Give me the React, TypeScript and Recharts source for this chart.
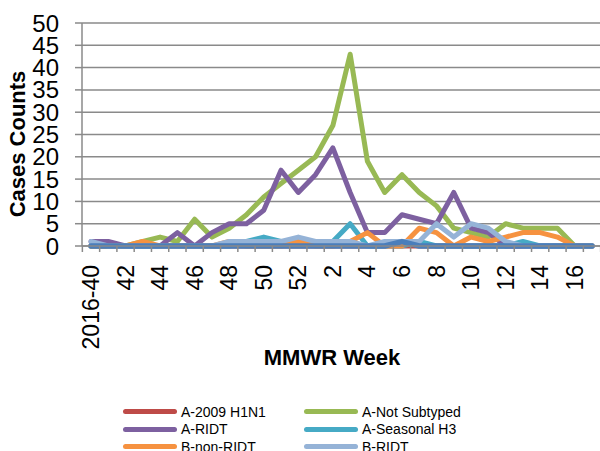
import { LineChart, Line, XAxis, YAxis, CartesianGrid } from 'recharts';

const WEEKS = [
  '2016-40', '41', '42', '43', '44', '45', '46', '47', '48', '49', '50', '51', '52',
  '1', '2', '3', '4', '5', '6', '7', '8', '9', '10', '11', '12', '13', '14', '15', '16', '17',
];

const A_H1N1 = [0, 0, 0, 0, 0, 0, 0, 0, 0, 0, 0, 0, 0, 0, 0, 0, 0, 0, 0, 0, 0, 0, 0, 0, 0, 0, 0, 0, 0, 0];
const A_NOT_SUBTYPED = [0, 0, 0, 1, 2, 1, 6, 2, 4, 7, 11, 14, 17, 20, 27, 43, 19, 12, 16, 12, 9, 4, 3, 2, 5, 4, 4, 4, 0, 0];
const A_RIDT = [1, 1, 0, 0, 0, 3, 0, 3, 5, 5, 8, 17, 12, 16, 22, 12, 3, 3, 7, 6, 5, 12, 4, 3, 0, 0, 0, 0, 0, 0];
const A_H3 = [0, 0, 0, 0, 0, 0, 0, 0, 0, 1, 2, 1, 1, 1, 1, 5, 0, 0, 0, 1, 0, 0, 0, 0, 0, 1, 0, 0, 0, 0];
const B_NON_RIDT = [0, 0, 0, 1, 0, 0, 0, 0, 1, 0, 0, 0, 1, 0, 0, 1, 3, 0, 0, 4, 3, 0, 2, 1, 2, 3, 3, 2, 0, 0];
const B_RIDT = [1, 0, 0, 0, 0, 0, 0, 0, 1, 1, 1, 1, 2, 1, 1, 1, 0, 1, 1, 1, 5, 2, 5, 4, 1, 0, 0, 0, 0, 0];
const UNKNOWN = [0, 0, 0, 0, 0, 0, 0, 0, 0, 0, 0, 0, 0, 0, 0, 0, 0, 0, 1, 0, 0, 0, 0, 0, 0, 0, 0, 0, 0, 0];

const Y_TICKS = [0, 5, 10, 15, 20, 25, 30, 35, 40, 45, 50];

const SERIES = [
  { key: 'h1n1', name: 'A-2009 H1N1', color: '#BE4B48', values: A_H1N1 },
  { key: 'notSub', name: 'A-Not Subtyped', color: '#98B954', values: A_NOT_SUBTYPED },
  { key: 'aRidt', name: 'A-RIDT', color: '#7D60A0', values: A_RIDT },
  { key: 'h3', name: 'A-Seasonal H3', color: '#46AAC5', values: A_H3 },
  { key: 'bNon', name: 'B-non-RIDT', color: '#F69240', values: B_NON_RIDT },
  { key: 'bRidt', name: 'B-RIDT', color: '#95B3D7', values: B_RIDT },
  { key: 'unk', name: 'Unknown', color: '#4A7EBB', values: UNKNOWN },
];

const data = WEEKS.map((week, i) => {
  const row: Record<string, string | number> = { week };
  SERIES.forEach(s => { row[s.key] = s.values[i]; });
  return row;
});

const FONT = '"Liberation Sans", Arial, sans-serif';
const GRID = '#8A8A8A';
const PAD_L = 9;
const PAD_R = 8;

// tick marks sit between weeks, labels on every other week
function WeekTick(props: any) {
  const { x, y, payload, index, width, visibleTicksCount } = props;
  const count = visibleTicksCount || WEEKS.length;
  const half = width ? (width - PAD_L - PAD_R) / (count - 1) / 2 : 8.6;
  return (
    <g>
      <line x1={x + half} y1={y} x2={x + half} y2={y + 6} stroke={GRID} strokeWidth={1.5} />
      {index === 0 && <line x1={x - half} y1={y} x2={x - half} y2={y + 6} stroke={GRID} strokeWidth={1.5} />}
      {index % 2 === 0 && (
        <text
          x={x}
          y={y + 19}
          transform={`rotate(-90, ${x}, ${y + 19})`}
          textAnchor="end"
          dominantBaseline="central"
          fontSize={23}
          fontFamily={FONT}
          fill="#000"
        >
          {payload.value}
        </text>
      )}
    </g>
  );
}

export default function App() {
  return (
    <div style={{ position: 'absolute', left: 0, top: 0, width: 600, height: 451, overflow: 'hidden', fontFamily: FONT, background: '#fff' }}>
      <LineChart width={600} height={480} data={data} margin={{ top: 23, right: 0, bottom: 124, left: 0 }}>
        <CartesianGrid vertical={false} stroke={GRID} strokeWidth={1.5} />
        <XAxis
          dataKey="week"
          interval={0}
          height={110}
          padding={{ left: PAD_L, right: PAD_R }}
          tickLine={false}
          tickSize={0}
          tickMargin={0}
          axisLine={{ stroke: GRID, strokeWidth: 1.5 }}
          tick={<WeekTick />}
        />
        <YAxis
          width={82}
          type="number"
          domain={[0, 50]}
          ticks={Y_TICKS}
          interval={0}
          tickSize={7}
          tickMargin={16}
          axisLine={{ stroke: GRID, strokeWidth: 1.5 }}
          tickLine={{ stroke: GRID, strokeWidth: 1.5 }}
          tick={{ fontSize: 24, fill: '#000', fontFamily: FONT }}
        />
        {SERIES.map(s => (
          <Line
            key={s.key}
            type="linear"
            dataKey={s.key}
            name={s.name}
            stroke={s.color}
            strokeWidth={s.key === 'unk' ? 5.5 : 5}
            strokeLinejoin="round"
            strokeLinecap="round"
            dot={false}
            activeDot={false}
            isAnimationActive={false}
          />
        ))}
      </LineChart>

      <div
        style={{
          position: 'absolute', left: 17.5, top: 144, transform: 'translate(-50%, -50%) rotate(-90deg)',
          fontSize: 22, fontWeight: 'bold', whiteSpace: 'nowrap', color: '#000',
        }}
      >
        Cases Counts
      </div>
      <div
        style={{
          position: 'absolute', left: 332, top: 358, transform: 'translate(-50%, -50%)',
          fontSize: 22, fontWeight: 'bold', whiteSpace: 'nowrap', color: '#000',
        }}
      >
        MMWR Week
      </div>

      {SERIES.map((s, i) => {
        const col = i % 2;
        const row = Math.floor(i / 2);
        const left = col === 0 ? 123 : 304;
        const top = 411.7 + row * 17.5;
        return (
          <div key={s.key} style={{ position: 'absolute', left, top, transform: 'translateY(-50%)', display: 'flex', alignItems: 'center', whiteSpace: 'nowrap' }}>
            <span style={{ display: 'inline-block', width: 54, height: 5, borderRadius: 3, background: s.color, marginRight: 4 }} />
            <span style={{ fontSize: 14, color: '#000' }}>{s.name}</span>
          </div>
        );
      })}
    </div>
  );
}
